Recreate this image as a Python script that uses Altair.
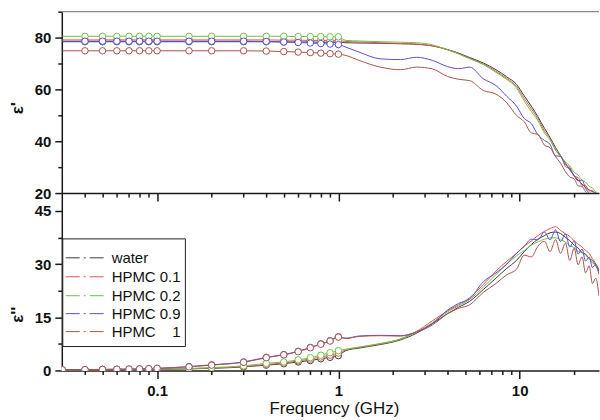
import altair as alt
import pandas as pd

SERIES = ["water", "HPMC 0.1", "HPMC 0.2", "HPMC 0.9", "HPMC 1"]
LEGEND_TEXT = ["water", "HPMC 0.1", "HPMC 0.2", "HPMC 0.9", "HPMC\u00a0\u00a0\u00a0\u00a01"]
COLORS = ["#3c3c3c", "#e4544c", "#6cc24a", "#5a4ed0", "#a8544c"]
Y_TITLES = ["ε'", "ε''"]

FREQ_LOW = [0.03, 0.04, 0.05, 0.06, 0.07, 0.08, 0.09, 0.1, 0.15, 0.2,
            0.3, 0.4, 0.5, 0.6, 0.7, 0.8, 0.9, 1.0]
FREQ_HIGH = [1.1, 1.3, 1.7, 2.2, 2.7, 3.3, 4.0, 4.6, 5.3, 6.3, 7.4, 8.5, 9.6,
             10.6, 11.6, 12.6, 13.7, 14.7, 15.8, 16.8, 17.9, 18.9, 20.0, 21.0,
             22.1, 23.1, 24.2, 25.2, 26.3, 27.4]

# real part (epsilon')
EPS1_LOW_WATER = [78.4, 78.4, 78.4, 78.4, 78.4, 78.4, 78.4, 78.4, 78.4, 78.4,
                  78.4, 78.4, 78.3, 78.3, 78.3, 78.2, 78.2, 78.2]
EPS1_LOW_H01 = [79.1, 79.1, 79.1, 79.1, 79.1, 79.1, 79.1, 79.1, 79.1, 79.1,
                79.1, 79.1, 79.0, 79.0, 78.9, 78.9, 78.8, 78.8]
EPS1_LOW_H02 = [80.5, 80.5, 80.5, 80.5, 80.5, 80.5, 80.5, 80.5, 80.5, 80.5,
                80.5, 80.5, 80.5, 80.4, 80.4, 80.4, 80.3, 80.3]
EPS1_LOW_H09 = [78.6, 78.6, 78.6, 78.6, 78.6, 78.6, 78.6, 78.6, 78.6, 78.6,
                78.6, 78.5, 78.3, 78.1, 77.9, 77.7, 77.5, 77.3]
EPS1_LOW_H1 = [74.9, 74.9, 74.9, 74.9, 74.9, 74.9, 74.9, 74.9, 74.9, 74.9,
               74.9, 74.8, 74.6, 74.4, 74.2, 74.0, 73.8, 73.6]

EPS1_HIGH_WATER = [78.0, 77.9, 77.8, 77.6, 77.4, 76.8, 75.4, 74.0, 72.3, 70.2,
                   67.6, 64.8, 62.0, 57.5, 53.5, 49.5, 45.0, 41.5, 37.5, 34.5,
                   31.5, 29.0, 26.8, 25.0, 23.4, 22.2, 21.2, 20.6, 20.0, 19.5]
EPS1_HIGH_H01 = [78.5, 78.3, 78.0, 77.7, 77.5, 76.8, 75.3, 73.8, 72.0, 69.8,
                 67.0, 64.2, 61.2, 56.5, 52.5, 48.8, 44.0, 41.0, 36.5, 34.5,
                 31.0, 30.0, 26.5, 26.0, 23.0, 23.0, 20.8, 21.0, 19.8, 19.5]
EPS1_HIGH_H02 = [78.9, 78.7, 78.4, 78.2, 78.0, 77.2, 75.3, 73.7, 71.8, 69.6,
                 66.6, 63.8, 60.6, 55.5, 51.5, 48.0, 43.2, 40.5, 36.5, 34.0,
                 32.0, 30.5, 28.0, 27.0, 25.0, 24.2, 22.6, 22.0, 20.5, 19.5]
EPS1_HIGH_H09 = [76.3, 74.4, 71.8, 71.5, 72.4, 71.2, 68.8, 68.0, 68.6, 64.1,
                 61.5, 57.3, 53.6, 48.8, 46.8, 42.5, 40.3, 38.8, 34.3, 34.2,
                 30.3, 29.4, 26.5, 24.8, 25.0, 21.8, 20.0, 18.5, 19.0, 17.5]
EPS1_HIGH_H1 = [73.1, 71.2, 68.6, 67.6, 68.6, 67.9, 65.0, 63.9, 63.4, 59.6,
                58.2, 54.8, 50.0, 47.5, 43.2, 42.7, 38.5, 37.5, 34.0, 31.6,
                28.2, 26.2, 25.5, 22.8, 22.6, 20.5, 19.5, 18.5, 19.0, 18.0]

# imaginary part (epsilon'')
EPS2_LOW_WATER = [0.1, 0.1, 0.15, 0.15, 0.2, 0.2, 0.25, 0.3, 0.45, 0.6,
                  1.0, 1.5, 1.9, 2.4, 2.8, 3.3, 3.7, 4.2]
EPS2_LOW_H01 = [0.1, 0.12, 0.15, 0.2, 0.22, 0.25, 0.3, 0.35, 0.5, 0.7,
                1.1, 1.7, 2.1, 2.7, 3.2, 3.8, 4.3, 4.9]
EPS2_LOW_H02 = [0.1, 0.12, 0.15, 0.2, 0.22, 0.25, 0.3, 0.35, 0.55, 0.8,
                1.3, 2.0, 2.4, 3.0, 3.6, 4.3, 5.0, 5.6]
EPS2_LOW_H09 = [0.2, 0.25, 0.3, 0.35, 0.4, 0.45, 0.5, 0.6, 1.1, 1.6,
                2.4, 3.7, 4.5, 5.4, 6.5, 7.5, 8.4, 9.5]
EPS2_LOW_H1 = [0.2, 0.25, 0.3, 0.35, 0.4, 0.45, 0.5, 0.6, 1.0, 1.5,
               2.3, 3.6, 4.4, 5.3, 6.4, 7.4, 8.3, 9.4]

EPS2_HIGH_WATER = [5.6, 6.3, 7.3, 8.6, 10.5, 13.2, 16.0, 17.8, 19.5, 22.8,
                   26.0, 28.8, 31.0, 33.5, 35.5, 37.0, 38.0, 38.8, 39.0, 38.6,
                   37.5, 36.6, 35.3, 34.5, 33.2, 32.8, 31.5, 31.0, 29.5, 28.0]
EPS2_HIGH_H01 = [5.8, 6.5, 7.5, 8.9, 11.0, 14.0, 16.8, 18.5, 20.5, 24.2,
                 28.0, 30.8, 33.0, 35.0, 36.5, 38.0, 39.2, 40.0, 40.5, 39.5,
                 38.5, 37.8, 36.5, 35.6, 34.8, 33.8, 33.0, 31.5, 30.0, 27.0]
EPS2_HIGH_H02 = [6.0, 6.6, 7.6, 8.8, 10.8, 13.5, 16.5, 18.2, 20.0, 23.5,
                 27.0, 30.0, 32.3, 33.8, 35.3, 36.2, 37.0, 37.3, 37.4, 36.8,
                 36.2, 35.2, 34.6, 33.6, 33.3, 32.5, 31.5, 30.3, 29.8, 28.5]
EPS2_HIGH_H09 = [9.1, 9.7, 9.9, 9.8, 10.9, 13.2, 17.0, 18.9, 20.2, 25.0,
                 27.5, 30.0, 33.0, 35.0, 37.0, 36.8, 39.0, 36.8, 39.6, 36.3,
                 38.5, 34.8, 36.5, 32.8, 34.2, 30.8, 32.0, 29.0, 30.0, 27.5]
EPS2_HIGH_H1 = [9.0, 9.6, 9.8, 9.7, 10.8, 12.8, 16.0, 17.5, 18.5, 22.0,
                24.5, 27.0, 28.5, 32.5, 32.0, 35.0, 36.4, 33.5, 36.9, 33.0,
                35.9, 31.0, 34.5, 29.8, 32.0, 27.5, 29.5, 24.5, 26.0, 21.0]

X_TICKS = [0.04, 0.05, 0.06, 0.07, 0.08, 0.09, 0.1, 0.2, 0.3, 0.4, 0.5, 0.6,
           0.7, 0.8, 0.9, 1, 2, 3, 4, 5, 6, 7, 8, 9, 10, 20]
Y1_TICKS = [20, 30, 40, 50, 60, 70, 80, 90]
Y2_TICKS = [0, 7.5, 15, 22.5, 30, 37.5, 45]


def build(lows, highs, first_marker):
    recs = []
    for s, lo, hi in zip(SERIES, lows, highs):
        for f, v in zip(FREQ_LOW, lo):
            recs.append({"series": s, "freq": f, "value": v,
                         "marker": f >= first_marker})
        for f, v in zip(FREQ_HIGH, hi):
            recs.append({"series": s, "freq": f, "value": v, "marker": False})
    return pd.DataFrame(recs)


df1 = build([EPS1_LOW_WATER, EPS1_LOW_H01, EPS1_LOW_H02, EPS1_LOW_H09, EPS1_LOW_H1],
            [EPS1_HIGH_WATER, EPS1_HIGH_H01, EPS1_HIGH_H02, EPS1_HIGH_H09, EPS1_HIGH_H1],
            0.04)
df2 = build([EPS2_LOW_WATER, EPS2_LOW_H01, EPS2_LOW_H02, EPS2_LOW_H09, EPS2_LOW_H1],
            [EPS2_HIGH_WATER, EPS2_HIGH_H01, EPS2_HIGH_H02, EPS2_HIGH_H09, EPS2_HIGH_H1],
            0.03)

FONT = "Liberation Sans"
AX = "#1a1a1a"
color_scale = alt.Scale(domain=SERIES, range=COLORS)
x_scale = alt.Scale(type="log", domain=[0.0298, 27.4], nice=False)
x_major_test = "indexof([0.1, 1, 10], datum.value) >= 0"

common_axis = dict(domainColor=AX, domainWidth=1.5, tickColor=AX, tickWidth=1.5,
                   grid=False, labelFont=FONT, titleFont=FONT)

x_top = alt.X("freq:Q", scale=x_scale,
              axis=alt.Axis(values=X_TICKS, labels=False, title=None,
                            tickSize={"condition": {"test": x_major_test, "value": 8}, "value": 4},
                            **common_axis))
x_bot = alt.X("freq:Q", scale=x_scale,
              axis=alt.Axis(values=X_TICKS, title="Frequency (GHz)",
                            labelExpr="indexof([0.1, 1, 10], datum.value) >= 0 ? datum.label : ''",
                            labelFontSize=15, labelFontWeight="bold", labelColor="#111",
                            labelPadding=5,
                            tickSize={"condition": {"test": x_major_test, "value": 8}, "value": 4},
                            titleFontSize=17, titleFontWeight="normal", titleColor="#111",
                            titleX=273, titleY=38, titleBaseline="middle",
                            **common_axis))

y_top = alt.Y("value:Q", scale=alt.Scale(domain=[20, 90], nice=False, zero=False),
              axis=alt.Axis(values=Y1_TICKS, title=None,
                            labelExpr="datum.value % 20 == 0 ? datum.label : ''",
                            tickSize={"condition": {"test": "datum.value % 20 == 0", "value": 7}, "value": 4},
                            labelFontSize=15, labelFontWeight="bold", labelColor="#111",
                            labelPadding=4, **common_axis))
y_bot = alt.Y("value:Q", scale=alt.Scale(domain=[0, 50], nice=False),
              axis=alt.Axis(values=Y2_TICKS, title=None,
                            labelExpr="datum.value % 15 == 0 ? datum.label : ''",
                            tickSize={"condition": {"test": "datum.value % 15 == 0", "value": 7}, "value": 4},
                            labelFontSize=15, labelFontWeight="bold", labelColor="#111",
                            labelPadding=4, **common_axis))


def panel(df, x, y, title, title_y):
    base = alt.Chart(df)
    lines = base.mark_line(strokeWidth=1, interpolate="monotone", clip=True).encode(
        x=x, y=y,
        color=alt.Color("series:N", scale=color_scale, legend=None),
        order=alt.Order("freq:Q"),
    )
    pts = base.transform_filter("datum.marker").mark_point(
        shape="circle", filled=True, fill="white", size=42, strokeWidth=1, opacity=1,
        clip=True,
    ).encode(x=x, y=y, stroke=alt.Stroke("series:N", scale=color_scale, legend=None))
    ttl = alt.Chart(pd.DataFrame({"t": [title]})).mark_text(
        angle=270, align="center", baseline="middle", font=FONT, fontSize=17,
        fontWeight="bold", color="#111"
    ).encode(x=alt.value(-44), y=alt.value(title_y), text="t:N")
    return [lines, pts, ttl]


# gray frame line along the top edge of the upper panel
frame_top = alt.Chart(pd.DataFrame({"k": [0]})).mark_rule(
    color="#8a8a8a", strokeWidth=1.2
).encode(x=alt.value(0), x2=alt.value(539), y=alt.value(0))

top = alt.layer(*panel(df1, x_top, y_top, Y_TITLES[0], 97), frame_top).properties(
    width=539, height=182)

# legend (drawn inside lower panel)
legend_df = pd.DataFrame({"label": LEGEND_TEXT, "series": SERIES})
box = alt.Chart(pd.DataFrame({"k": [0]})).mark_rect(
    fill="white", stroke="#222", strokeWidth=1
).encode(x=alt.value(1), x2=alt.value(124), y=alt.value(46), y2=alt.value(154))
leg_layers = [box]
row_y = [65, 84, 103, 121, 139]
for i, (lab, col) in enumerate(zip(LEGEND_TEXT, COLORS)):
    d = legend_df.iloc[[i]]
    leg_layers.append(
        alt.Chart(d).mark_rule(color=col, strokeWidth=1, strokeDash=[14, 4, 2, 4]).encode(
            x=alt.value(4), x2=alt.value(44), y=alt.value(row_y[i]))
    )
    leg_layers.append(
        alt.Chart(d).mark_text(align="left", baseline="middle", font=FONT, fontSize=15,
                               color="#111").encode(
            x=alt.value(50), y=alt.value(row_y[i]), text="label:N")
    )

bottom = alt.layer(*panel(df2, x_bot, y_bot, Y_TITLES[1], 122), *leg_layers).properties(
    width=539, height=178)

chart = alt.vconcat(top, bottom, spacing=0, bounds="flush").properties(
    padding={"left": 9, "top": 10, "right": 0, "bottom": 4},
    background="white",
).configure_view(strokeWidth=0)

chart.save("out.html", embed_options={"renderer": "svg", "actions": False})
